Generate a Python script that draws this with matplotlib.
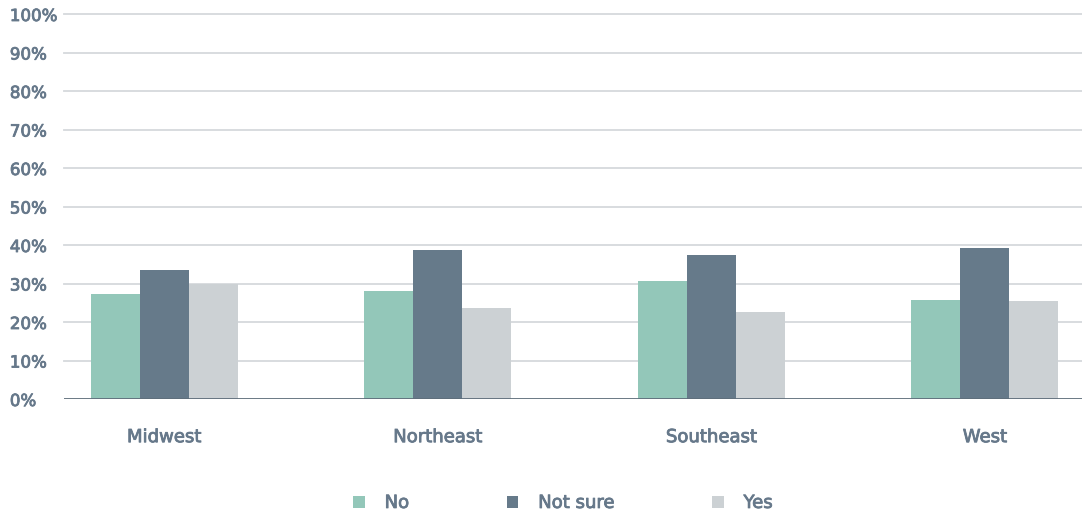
import numpy as np
import matplotlib.pyplot as plt
import matplotlib.patheffects as pe

# dati (percentuali)
regioni = ['Midwest', 'Northeast', 'Southeast', 'West']
serie = ['No', 'Not sure', 'Yes']
val_no = [27.3, 28.1, 30.6, 25.7]
val_notsure = [33.5, 38.7, 37.4, 39.2]
val_yes = [30.0, 23.6, 22.6, 25.4]
colori = ['#93c7b9', '#667a8a', '#ccd1d4']
yticks = np.arange(0, 101, 10)

testo = '#66788a'
spess = [pe.withStroke(linewidth=0.6, foreground=testo)]

fig = plt.figure(figsize=(10.82, 5.17), dpi=100)
ax = fig.add_axes([64/1082, 1-399/517, 1-64/1082, (399-14)/517])

x = np.arange(len(regioni))
w = 0.179
for i, (vals, nome) in enumerate(zip([val_no, val_notsure, val_yes], serie)):
    ax.bar(x + (i-1)*w, vals, width=w, color=colori[i], label=nome, zorder=3)

ax.set_ylim(0, 100)
ax.set_xlim(-0.366, 3.355)
ax.set_yticks(yticks)
ax.set_yticklabels(['%d%%' % v for v in yticks])
for t in ax.get_yticklabels():
    t.set_horizontalalignment('left')
    t.set_path_effects(spess)
ax.tick_params(axis='y', length=0, pad=39, labelsize=12, labelcolor=testo)
ax.set_xticks(x)
ax.set_xticklabels(regioni)
for t in ax.get_xticklabels():
    t.set_path_effects(spess)
ax.tick_params(axis='x', length=0, pad=21, labelsize=13, labelcolor=testo)

for v in yticks[1:]:
    ax.axhline(v, color='#d5d9dc', lw=1.3, zorder=1, clip_on=False)
ax.axhline(0, color='#5f6e7b', lw=1.3, zorder=4)

for s in ax.spines.values():
    s.set_visible(False)

leg = ax.legend(loc='center', bbox_to_anchor=(0.49, -0.27), ncol=3, frameon=False,
                handlelength=0.65, handleheight=0.65, handletextpad=1.1, columnspacing=5.4,
                fontsize=13)
for t in leg.get_texts():
    t.set_color(testo)
    t.set_path_effects(spess)

fig.savefig('out.png', dpi=100)
